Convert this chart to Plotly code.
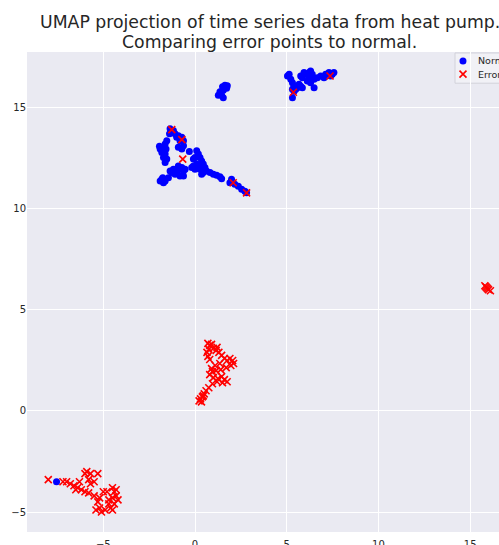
import plotly.graph_objects as go

# UMAP embedding coordinates, normal operation
normal_x = [
    -1.36, -1.18, -1.09, -0.91, -0.72, -0.63, -0.82, -1.00, -1.27, -1.39,
    -1.54, -1.63, -1.72, -1.90, -1.81, -1.63, -1.72, -1.54, -1.63, -1.58, -1.94,
    -0.91, -0.72, -0.63, -0.31,
    -1.81, -1.72, -1.63, -1.90, -1.76,
    -1.36, -1.18, -1.00, -0.82, -0.72, -0.63, -0.54, -0.82, -1.09, -1.27, -0.63, -0.91, -1.45,
    0.09, 0.18, 0.00, 0.27, 0.36, 0.09, -0.09, 0.18, 0.45, 0.54, 0.00, 0.27, -0.18, 0.45, 0.36, -0.09,
    0.63, 0.82, 1.00, 1.18, 1.36, 1.45,
    1.99, 1.90, 2.17, 2.36, 2.54, 2.72, 2.81,
    1.63, 1.72, 1.54, 1.36, 1.45, 1.27, 1.54, 1.76, 1.50,
    5.13, 5.04, 5.22, 5.31, 5.40, 5.58, 5.76, 5.85, 5.49, 5.67, 5.31, 5.40, 5.31,
    5.85, 6.03, 6.22, 6.30, 6.39, 6.22, 6.49, 6.12, 6.30, 6.49, 6.67, 6.85, 7.03,
    7.12, 7.30, 7.39, 7.48, 7.57, 5.76, 5.94,
    -7.55,
]
normal_y = [
    13.97, 13.88, 13.72, 13.63, 13.55, 13.38, 13.38, 13.55, 13.80, 13.72,
    13.38, 13.22, 13.05, 12.97, 12.80, 12.72, 12.55, 12.47, 12.30, 12.97, 13.10,
    13.05, 12.97, 13.13, 12.85,
    11.47, 11.30, 11.38, 11.38, 11.55,
    11.88, 11.97, 11.80, 11.97, 12.05, 11.88, 11.97, 11.63, 11.72, 11.80, 11.63, 12.13, 11.55,
    12.88, 12.72, 12.55, 12.55, 12.38, 12.22, 12.13, 12.05, 12.22, 12.05, 11.97, 11.97, 12.05, 11.80, 11.72, 12.47,
    11.88, 11.80, 11.72, 11.67, 11.60, 11.50,
    11.47, 11.30, 11.22, 11.13, 10.97, 10.88, 10.80,
    16.13, 15.97, 15.88, 15.80, 15.63, 15.63, 15.50, 16.10, 16.05,
    16.67, 16.58, 16.42, 16.25, 16.08, 16.00, 16.08, 16.00, 15.92, 16.17, 15.92, 15.83, 15.50,
    16.50, 16.67, 16.75, 16.83, 16.67, 16.50, 16.42, 16.33, 16.25, 16.00, 16.50, 16.58, 16.50,
    16.67, 16.75, 16.58, 16.67, 16.75, 16.58, 16.75,
    -3.50,
]

# UMAP embedding coordinates, error events
error_x = [
    -1.27, -0.72, -0.67, 2.08, 2.81,
    5.36, 7.36,
    0.70, 0.80, 0.75, 0.65, 0.70, 0.80, 0.90, 1.00, 1.15, 1.30, 1.45, 1.60, 1.75, 1.90,
    2.05, 2.10, 1.95, 1.70, 1.40, 1.15, 0.95, 0.80, 1.00, 1.25, 1.45, 1.60, 1.75, 1.50,
    1.20, 0.95, 0.75, 0.60, 0.50, 0.40, 0.30, 0.22, 0.35, 0.45, 1.10, 1.35, 0.90, 1.20,
    -8.00, -7.20, -7.00, -6.80, -6.60, -6.40, -6.20, -6.00, -5.80, -6.00, -5.90, -5.70,
    -5.30, -5.50, -5.70, -6.30, -6.50, -5.80, -5.50, -5.30, -5.20, -5.10, -4.90, -4.70,
    -4.50, -4.40, -4.30, -4.50, -4.60, -4.40, -4.20, -4.30, -5.00, -4.80, -5.20, -4.70,
    -5.40, -4.50,
    15.80, 15.90, 16.00, 16.10, 15.85, 15.95,
]
error_y = [
    13.93, 13.43, 12.47, 11.30, 10.80,
    15.78, 16.58,
    3.35, 3.25, 3.05, 2.90, 2.70, 2.55, 3.30, 3.10, 3.00, 2.90, 2.75, 2.60, 2.50, 2.60,
    2.50, 2.35, 2.25, 2.15, 2.05, 2.00, 1.95, 1.80, 1.65, 1.60, 1.70, 1.55, 1.45, 1.40,
    1.45, 1.35, 1.15, 1.00, 0.85, 0.70, 0.60, 0.50, 0.45, 0.75, 2.25, 2.35, 2.10, 3.15,
    -3.40, -3.50, -3.50, -3.60, -3.70, -3.80, -3.90, -4.00, -4.05, -3.10, -3.00, -3.10,
    -3.10, -3.50, -3.60, -3.50, -3.90, -3.40, -4.20, -4.50, -4.80, -5.00, -4.90, -4.60,
    -4.30, -4.00, -3.90, -3.80, -4.80, -4.60, -4.40, -4.20, -4.00, -4.00, -4.30, -4.40,
    -4.90, -4.90,
    6.20, 6.10, 6.00, 5.95, 6.15, 6.05,
]

x_ticks = [-5, 0, 5, 10, 15]
y_ticks = [-5, 0, 5, 10, 15]
title_lines = [
    "UMAP projection of time series data from heat pump.",
    "Comparing error points to normal.",
]
legend_labels = ["Normal", "Error"]

FONT = "DejaVu Sans"
TEXT = "#262626"
NORMAL_MARKER = dict(symbol="circle", size=7, color="#0000ff", line=dict(width=0))
ERROR_MARKER = dict(symbol="x-thin", size=7, color="#ff0000",
                    line=dict(color="#ff0000", width=1.6))

fig = go.Figure()
fig.add_trace(go.Scatter(x=normal_x, y=normal_y, mode="markers",
                         name=legend_labels[0], marker=NORMAL_MARKER))
fig.add_trace(go.Scatter(x=error_x, y=error_y, mode="markers",
                         name=legend_labels[1], marker=ERROR_MARKER))

# Compact legend drawn in paper space (tighter rows than the built-in legend)
leg_x, leg_rows = 0.9237, [0.9813, 0.9540]
fig.add_shape(type="rect", xref="paper", yref="paper",
              x0=0.9068, x1=1.07, y0=0.935, y1=0.998,
              fillcolor="rgba(241,241,246,0.92)", line=dict(color="#d2d2da", width=1),
              layer="between")
fig.add_trace(go.Scatter(x=[leg_x], y=[leg_rows[0]], mode="markers",
                         marker=NORMAL_MARKER, xaxis="x2", yaxis="y2",
                         showlegend=False, hoverinfo="skip"))
fig.add_trace(go.Scatter(x=[leg_x], y=[leg_rows[1]], mode="markers",
                         marker=ERROR_MARKER, xaxis="x2", yaxis="y2",
                         showlegend=False, hoverinfo="skip"))

annotations = [
    dict(text=title_lines[0], xref="paper", yref="paper", x=0.514, y=1.063,
         xanchor="center", yanchor="middle", showarrow=False,
         font=dict(family=FONT, size=17.3, color=TEXT)),
    dict(text=title_lines[1], xref="paper", yref="paper", x=0.514, y=1.021,
         xanchor="center", yanchor="middle", showarrow=False,
         font=dict(family=FONT, size=17.3, color=TEXT)),
]
for label, row in zip(legend_labels, leg_rows):
    annotations.append(dict(text=label, xref="paper", yref="paper", x=0.951, y=row,
                            xanchor="left", yanchor="middle", showarrow=False,
                            font=dict(family=FONT, size=9.5, color=TEXT)))

fig.update_layout(
    width=499, height=545,
    margin=dict(l=27, r=0, t=52, b=13, autoexpand=False),
    paper_bgcolor="white",
    plot_bgcolor="#EAEAF2",
    font=dict(family=FONT, color=TEXT, size=10),
    showlegend=False,
    annotations=annotations,
    xaxis=dict(range=[-9.16, 16.57], tickvals=x_ticks, showgrid=True, gridcolor="white",
               gridwidth=1, zeroline=False, showline=False, ticks="", ticklabelstandoff=5,
               tickfont=dict(family=FONT, size=10, color=TEXT)),
    yaxis=dict(range=[-5.99, 17.77], tickvals=y_ticks, showgrid=True, gridcolor="white",
               gridwidth=1, zeroline=False, showline=False, ticks="",
               tickfont=dict(family=FONT, size=10, color=TEXT)),
    xaxis2=dict(overlaying="x", range=[0, 1], visible=False, fixedrange=True),
    yaxis2=dict(overlaying="y", range=[0, 1], visible=False, fixedrange=True),
)

fig.write_html("out.html", config={"displayModeBar": False})
